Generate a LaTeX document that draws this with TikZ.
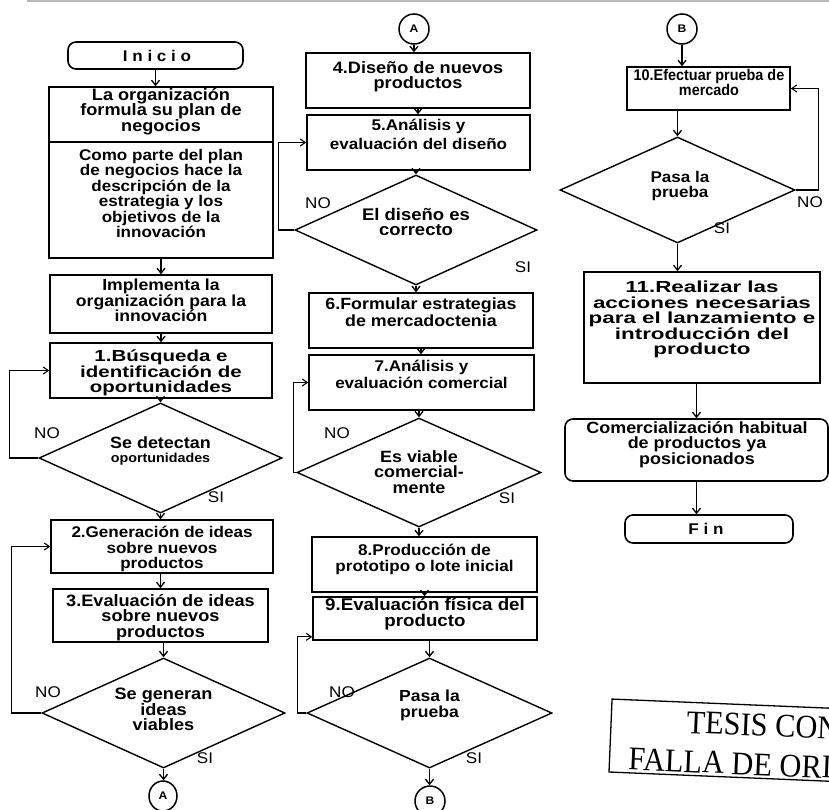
\documentclass[tikz,border=0pt]{standalone}
\usepackage{fontspec}
\setmainfont{Liberation Sans}[FakeStretch=1.1]
\newfontfamily\fcnarrowfam{Liberation Sans}[FakeStretch=0.93]
\newfontfamily\fcwidefam{Liberation Sans}[FakeStretch=1.28]
\newfontfamily\fcxwidefam{Liberation Sans}[FakeStretch=1.4]
\newfontfamily\stampfont{Liberation Serif}
\usetikzlibrary{arrows.meta,shapes.geometric}

% text sizes: #1 = font size, #2 = line pitch
\newcommand\fcsize[2]{\fontsize{#1}{#2}\selectfont\bfseries\lineskiplimit=-30pt}
\newcommand\fcfont{\fcsize{15.5}{15.5}}
\newcommand\fcsmall{\fontsize{13}{13}\selectfont\bfseries}
\newcommand\fclabel{\fontsize{15.5}{15.5}\selectfont}
\newcommand\fcconn{\fontsize{11}{11}\selectfont\bfseries}

\begin{document}
\begin{tikzpicture}[x=1pt,y=-1pt,
  fbox/.style={draw, line width=1.6pt, rectangle, inner sep=0pt},
  rbox/.style={fbox, rounded corners=8pt},
  fdiam/.style={draw, line width=1.4pt, diamond, inner sep=0pt},
  conn/.style={draw, line width=1.5pt, ellipse, inner sep=0pt},
  txt/.style={inner sep=0pt, align=center, font=\fcfont},
  lbl/.style={inner sep=0pt, font=\fclabel},
  arr/.style={line width=1.3pt, -{Straight Barb[length=5pt,width=8pt]}},
  back/.style={line width=1.1pt, -{Straight Barb[length=5pt,width=7pt]}},
  stampline/.style={line width=1.3pt},
  stamptext/.style={inner sep=0pt, font=\stampfont\fontsize{33}{33}\selectfont, xscale=0.92}
]
\useasboundingbox (0,0) rectangle (829,809);
\clip (0,0) rectangle (829,809);

% page rule along the top edge
\draw[gray!55, line width=1.2pt] (27,1) -- (829,1);

% ---------------- first column ----------------
\node[rbox, minimum width=175pt, minimum height=27pt] (inicio) at (155.5,55.5) {};
\node[txt] (tinicio) at (157,56) {I n i c i o};

\node[fbox, minimum width=224pt, minimum height=55pt] (org1) at (161,114.5) {};
\node[txt, anchor=north, font=\fcsize{16.5}{15.5}] (torg1) at (161,88) {La organización\\formula su plan de\\negocios};
\node[fbox, minimum width=224pt, minimum height=116pt] (org2) at (161,200) {};
\node[txt, anchor=north] (torg2) at (161,149) {Como parte del plan\\de negocios hace la\\descripción de la\\estrategia y los\\objetivos de la\\innovación};

\node[fbox, minimum width=222pt, minimum height=58pt] (impl) at (161,304) {};
\node[txt, anchor=north, font=\fcsize{16}{15.5}] (timpl) at (161,279) {Implementa la\\organización para la\\innovación};

\node[fbox, minimum width=222pt, minimum height=55pt] (b1) at (161,370.5) {};
\node[txt, anchor=north, font=\fcwidefam\fcsize{16}{15.5}] (tb1) at (161,350) {1.Búsqueda e\\identificación de\\oportunidades};

\node[fdiam, minimum width=243pt, minimum height=110pt] (d1) at (160.5,458) {};
\node[txt, anchor=base, font=\fcsize{16.3}{15.5}] (td1a) at (160.5,448) {Se detectan};
\node[inner sep=0pt, font=\fcsmall, anchor=base] (td1b) at (160.5,462) {oportunidades};

\node[fbox, minimum width=222pt, minimum height=53pt] (b2) at (162,546.5) {};
\node[txt, anchor=north] (tb2) at (162,526) {2.Generación de ideas\\sobre nuevos\\productos};

\node[fbox, minimum width=215pt, minimum height=53pt] (b3) at (160.5,615.5) {};
\node[txt, anchor=north, font=\fcsize{16.5}{15.5}] (tb3) at (160.5,594) {3.Evaluación de ideas\\sobre nuevos\\productos};

\node[fdiam, minimum width=243pt, minimum height=110pt] (d2) at (163.5,713) {};
\node[txt, anchor=north, font=\fcsize{16.5}{15.5}] (td2) at (163.5,688) {Se generan\\ideas\\viables};

\node[conn, minimum width=28pt, minimum height=30pt] (cA1) at (163,796) {\fcconn A};

\draw[arr] (inicio.south) -- (inicio.south |- org1.north);
\draw[arr] (org2.south) -- (org2.south |- impl.north);
\draw[arr] (impl.south) -- (impl.south |- b1.north);
\draw[arr] (d1.north |- b1.south) -- (d1.north);
\draw[arr] (d1.south) -- (d1.south |- b2.north);
\draw[arr] (b3.north |- b2.south) -- (b3.north);
\draw[arr] (d2.north |- b3.south) -- (d2.north);
\draw[arr] (d2.south) -- (d2.south |- cA1.north);
\draw[back] (d1.west) -- ++(-29,0) |- (b1.west);
\draw[back] (d2.west) -- ++(-30,0) |- (b2.west);

\node[lbl] (no1) at (47,433) {NO};
\node[lbl] (si1) at (216,497) {SI};
\node[lbl] (no2) at (48,692) {NO};
\node[lbl] (si2) at (205,758) {SI};

% ---------------- second column ----------------
\node[conn, minimum width=30pt, minimum height=30pt] (cA2) at (414,29) {\fcconn A};

\node[fbox, minimum width=224pt, minimum height=55pt] (b4) at (418,80.5) {};
\node[txt, anchor=north, font=\fcsize{16.5}{15.5}] (tb4) at (418,61) {4.Diseño de nuevos\\productos};

\node[fbox, minimum width=223pt, minimum height=55pt] (b5) at (418.5,142.5) {};
\node[txt, anchor=north, font=\fcsize{15.5}{19}] (tb5) at (418.5,119) {5.Análisis y\\evaluación del diseño};

\node[fdiam, minimum width=242pt, minimum height=110pt] (d3) at (416,230) {};
\node[txt, anchor=north, font=\fcsize{16.8}{15.5}] (td3) at (416,208) {El diseño es\\correcto};

\node[fbox, minimum width=224pt, minimum height=55pt] (b6) at (421,320.5) {};
\node[txt, anchor=north, font=\fcsize{16.2}{17}] (tb6) at (421,298) {6.Formular estrategias\\de mercadoctenia};

\node[fbox, minimum width=225pt, minimum height=55pt] (b7) at (421.5,382.5) {};
\node[txt, anchor=north, font=\fcsize{15.5}{17}] (tb7) at (421.5,360) {7.Análisis y\\evaluación comercial};

\node[fdiam, minimum width=244pt, minimum height=109pt] (d4) at (419,472.5) {};
\node[txt, anchor=north, font=\fcsize{16.3}{15.5}] (td4) at (419,450) {Es viable\\comercial-\\mente};

\node[fbox, minimum width=225pt, minimum height=55pt] (b8) at (424.5,564.5) {};
\node[txt, anchor=north] (tb8) at (424.5,544) {8.Producción de\\prototipo o lote inicial};

\node[fbox, minimum width=224pt, minimum height=43pt] (b9) at (425,618.5) {};
\node[txt, anchor=north, font=\fcsize{17}{16}] (tb9) at (425,598) {9.Evaluación física del\\producto};

\node[fdiam, minimum width=245pt, minimum height=110pt] (d5) at (429.5,713) {};
\node[txt, anchor=north, font=\fcsize{16}{15.5}] (td5) at (429.5,690) {Pasa la\\prueba};

\node[conn, minimum width=30pt, minimum height=30pt] (cB1) at (430,801) {\fcconn B};

\draw[arr] (cA2.south) -- (cA2.south |- b4.north);
\draw[arr] (b4.south) -- (b4.south |- b5.north);
\draw[arr] (d3.north |- b5.south) -- (d3.north);
\draw[arr] (d3.south) -- (d3.south |- b6.north);
\draw[arr] (b6.south) -- (b6.south |- b7.north);
\draw[arr] (d4.north |- b7.south) -- (d4.north);
\draw[arr] (d4.south) -- (d4.south |- b8.north);
\draw[arr] (b8.south) -- (b8.south |- b9.north);
\draw[arr] (d5.north |- b9.south) -- (d5.north);
\draw[arr] (d5.south) -- (d5.south |- cB1.north);
\draw[back] (d3.west) -- ++(-16,0) |- (b5.west);
\draw[back] (d4.west) -- ++(-3,0) |- (b7.west);
\draw[back] (d5.west) -- ++(-9,0) |- ([yshift=4pt]b9.south west);

\node[lbl] (no3) at (318,203) {NO};
\node[lbl] (si3) at (523,267) {SI};
\node[lbl] (no4) at (337,433) {NO};
\node[lbl] (si4) at (507,498) {SI};
\node[lbl] (no5) at (342,692) {NO};
\node[lbl] (si5) at (474,758) {SI};

% ---------------- third column ----------------
\node[conn, minimum width=30pt, minimum height=30pt] (cB2) at (682,29) {\fcconn B};

\node[fbox, minimum width=163pt, minimum height=43pt] (b10) at (708.5,88.5) {};
\node[txt, anchor=north, font=\fcnarrowfam\fcsize{15.5}{15.5}] (tb10) at (709,69) {10.Efectuar prueba de\\mercado};

\node[fdiam, minimum width=235pt, minimum height=106pt] (d6) at (677.5,190) {};
\node[txt, anchor=north] (td6) at (680,171) {Pasa la\\prueba};

\node[fbox, minimum width=236pt, minimum height=111pt] (b11) at (702,327.5) {};
\node[txt, anchor=north, font=\fcxwidefam\fcsize{16}{15.5}] (tb11) at (702,281) {11.Realizar las\\acciones necesarias\\para el lanzamiento e\\introducción del\\producto};

\node[rbox, minimum width=263pt, minimum height=62pt] (com) at (696.5,450) {};
\node[txt, anchor=north, font=\fcsize{16.3}{15.5}] (tcom) at (697,421) {Comercialización habitual\\de productos ya\\posicionados};

\node[rbox, minimum width=168pt, minimum height=28pt] (fin) at (709,529) {};
\node[txt] (tfin) at (706,529) {F i n};

\draw[arr] (cB2.south) -- (cB2.south |- b10.north);
\draw[arr] (d6.north |- b10.south) -- (d6.north);
\draw[arr] (d6.south) -- (d6.south |- b11.north);
\draw[arr] (com.north |- b11.south) -- (com.north);
\draw[arr] (com.south) -- (com.south |- fin.north);
\draw[back] (d6.east) -- ++(23,0) |- (b10.east);

\node[lbl] (no6) at (810,202) {NO};
\node[lbl] (si6) at (722,228) {SI};

% ---------------- stamp ----------------
\begin{scope}[shift={(609,772)}, rotate=-2.4, transform shape]
  \draw[stampline] (0,0) rectangle (305,-73);
  \node[stamptext, anchor=base] (st1) at (152,-42) {TESIS CON};
  \node[stamptext, anchor=base] (st2) at (152,-3) {FALLA DE ORIGEN};
\end{scope}
\end{tikzpicture}
\end{document}
